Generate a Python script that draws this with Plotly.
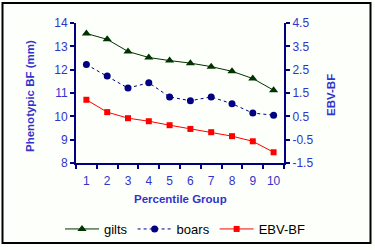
import plotly.graph_objects as go

groups = [1, 2, 3, 4, 5, 6, 7, 8, 9, 10]
gilts = [13.55, 13.30, 12.78, 12.52, 12.39, 12.28, 12.13, 11.93, 11.62, 11.12]
boars = [12.22, 11.73, 11.21, 11.44, 10.83, 10.67, 10.83, 10.54, 10.14, 10.05]
ebv_bf = [1.21, 0.68, 0.42, 0.29, 0.12, -0.04, -0.18, -0.35, -0.57, -1.04]

left_ticks = [8, 9, 10, 11, 12, 13, 14]
right_ticks = [-1.5, -0.5, 0.5, 1.5, 2.5, 3.5, 4.5]

W, H = 375, 250
L, R, T, B = 76, 91, 23, 87
pw, ph = W - L - R, H - T - B

def px(x):
    return (x - L) / pw

def py(y):
    return (H - B - y) / ph

blue = "#3333cc"
navy = "#000080"
font = "Liberation Sans, Arial, sans-serif"

fig = go.Figure()
fig.add_trace(go.Scatter(x=groups, y=gilts, name="gilts", mode="lines+markers",
                         line=dict(color="#003300", width=1),
                         marker=dict(symbol="triangle-up", size=8, color="#003300")))
fig.add_trace(go.Scatter(x=groups, y=boars, name="boars", mode="lines+markers",
                         line=dict(color=navy, width=1, dash="dot"),
                         marker=dict(symbol="circle", size=7, color=navy)))
fig.add_trace(go.Scatter(x=groups, y=ebv_bf, name="EBV-BF", mode="lines+markers", yaxis="y2",
                         line=dict(color="#ff0000", width=1),
                         marker=dict(symbol="square", size=6, color="#ff0000")))

bg = "#fdfffb"
fig.update_layout(
    width=W, height=H,
    margin=dict(l=L, r=R, t=T, b=B, pad=0, autoexpand=False),
    paper_bgcolor=bg, plot_bgcolor=bg,
    font=dict(family=font, size=11, color=blue),
    showlegend=True,
    legend=dict(orientation="h", x=px(60), xanchor="left",
                y=py(229), yanchor="middle",
                xref="paper", yref="paper",
                font=dict(family=font, size=13, color="black"),
                itemwidth=34, bgcolor="rgba(0,0,0,0)", tracegroupgap=0),
    xaxis=dict(range=[0.5, 10.5], tickvals=groups, ticktext=[str(g) for g in groups],
               ticks="", showgrid=False, zeroline=False, showline=True, linecolor=navy, linewidth=2,
               tickfont=dict(size=12, color=blue), ticklabelstandoff=6,
               minor=dict(tickvals=[g - 0.5 for g in groups] + [10.5], ticks="outside",
                          ticklen=4, tickcolor=navy, tickwidth=2, showgrid=False)),
    yaxis=dict(range=[8, 14], tickvals=left_ticks, ticks="outside", ticklen=4, tickcolor=navy, tickwidth=2,
               showgrid=False, zeroline=False, showline=True, linecolor=navy, linewidth=2,
               tickfont=dict(size=12, color=blue)),
    yaxis2=dict(range=[-1.5, 4.5], tickvals=right_ticks, ticktext=[str(v) for v in right_ticks],
                overlaying="y", side="right", ticks="outside", ticklen=4, tickcolor=navy, tickwidth=2,
                showgrid=False, zeroline=False, showline=True, linecolor=navy, linewidth=2,
                tickfont=dict(size=12, color=blue)),
)

ann = dict(xref="paper", yref="paper", showarrow=False, xanchor="center", yanchor="middle")
fig.add_annotation(text="<b>Phenotypic BF (mm)</b>", x=px(30), y=py(96), textangle=-90,
                   font=dict(family=font, size=11.5, color=blue), **ann)
fig.add_annotation(text="<b>EBV-BF</b>", x=px(331), y=py(95), textangle=-90,
                   font=dict(family=font, size=11.5, color=blue), **ann)
fig.add_annotation(text="<b>Percentile Group</b>", x=px(180), y=py(199),
                   font=dict(family=font, size=11.5, color=blue), **ann)
fig.add_shape(type="rect", xref="paper", yref="paper", x0=px(2.5), x1=px(370.5), y0=py(243), y1=py(3),
              line=dict(color="black", width=2))

fig.write_html("out.html")
